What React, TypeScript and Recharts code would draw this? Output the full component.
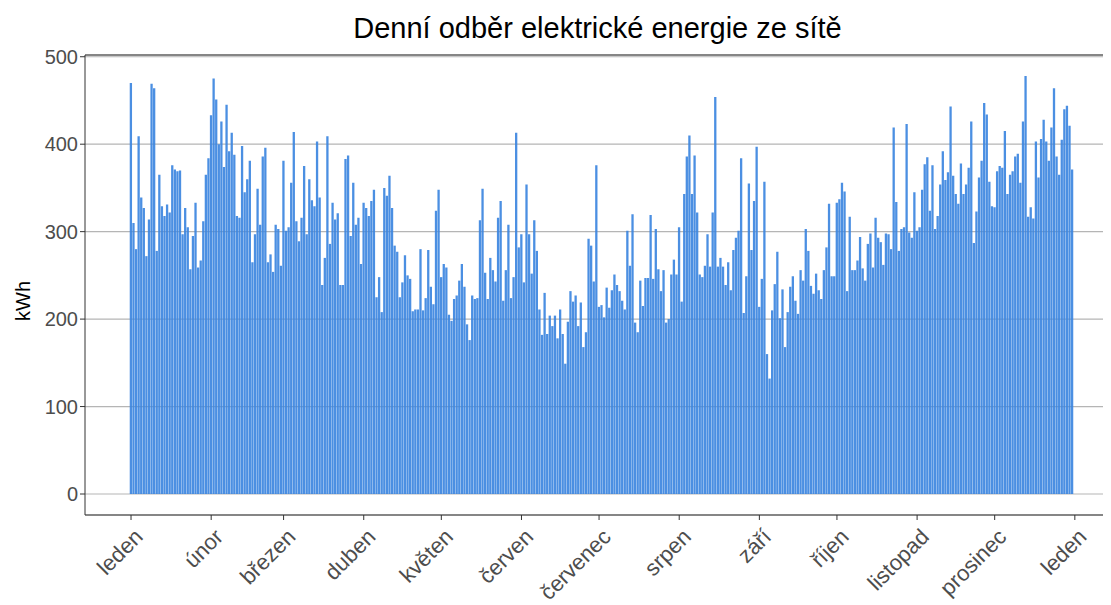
import { Bar, BarChart, CartesianGrid, ReferenceLine, XAxis, YAxis } from 'recharts';

// daily grid consumption (kWh), one array per month
const leden = [470, 310, 280, 409, 339, 327, 272, 314, 469, 464, 278, 365, 329, 318, 331, 322, 376, 371, 369, 370, 297, 327, 305, 257, 295, 333, 259, 267, 312, 365, 384];
const unor = [433, 475, 451, 400, 426, 374, 445, 392, 413, 388, 318, 316, 398, 345, 360, 381, 265, 297, 349, 308, 386, 396, 265, 274, 254, 308, 303, 261];
const brezen = [381, 301, 305, 356, 414, 312, 289, 316, 375, 297, 360, 336, 329, 403, 339, 239, 270, 409, 286, 333, 314, 321, 239, 239, 383, 387, 295, 356, 308, 316, 263];
const duben = [333, 327, 318, 335, 348, 225, 248, 208, 350, 341, 364, 327, 284, 277, 225, 242, 273, 250, 246, 209, 211, 211, 280, 210, 224, 279, 237, 217, 324, 348];
const kveten = [248, 263, 259, 205, 198, 223, 227, 244, 263, 237, 194, 176, 227, 223, 224, 313, 349, 253, 223, 270, 256, 243, 316, 335, 221, 256, 308, 224, 248, 413, 282];
const cerven = [297, 242, 354, 297, 252, 313, 278, 211, 182, 230, 183, 204, 192, 204, 178, 211, 183, 149, 197, 232, 220, 227, 192, 219, 168, 185, 292, 284, 243, 376];
const cervenec = [214, 216, 202, 236, 213, 233, 251, 239, 232, 221, 211, 301, 261, 320, 196, 185, 244, 215, 247, 247, 319, 246, 303, 257, 232, 256, 196, 200, 251, 268, 251];
const srpen = [305, 220, 343, 386, 410, 343, 387, 322, 251, 248, 261, 297, 260, 322, 454, 260, 270, 260, 239, 265, 233, 279, 293, 301, 384, 207, 249, 355, 279, 335, 397];
const zari = [214, 246, 357, 160, 132, 210, 240, 277, 201, 234, 168, 208, 237, 249, 221, 206, 256, 244, 303, 278, 238, 229, 252, 233, 223, 256, 282, 332, 249, 249];
const rijen = [333, 337, 356, 346, 232, 317, 256, 256, 267, 294, 258, 244, 286, 298, 259, 316, 293, 288, 262, 298, 297, 280, 419, 334, 278, 303, 305, 423, 299, 293, 345];
const listopad = [301, 305, 348, 377, 385, 324, 376, 303, 318, 354, 392, 359, 368, 443, 364, 343, 332, 378, 343, 354, 373, 426, 287, 323, 362, 381, 447, 434, 357, 329];
const prosinec = [328, 369, 375, 373, 415, 343, 365, 369, 386, 389, 356, 426, 478, 317, 328, 315, 403, 362, 406, 428, 403, 381, 419, 464, 386, 365, 405, 440, 444, 421, 371];

const monthNames = ['leden', 'únor', 'březen', 'duben', 'květen', 'červen', 'červenec', 'srpen', 'září', 'říjen', 'listopad', 'prosinec', 'leden'];
const monthStarts = [0, 31, 59, 90, 120, 151, 181, 212, 243, 273, 304, 334, 365];
const yTicks = [0, 100, 200, 300, 400, 500];

const data = [leden, unor, brezen, duben, kveten, cerven, cervenec, srpen, zari, rijen, listopad, prosinec]
  .flat()
  .map((kwh, i) => ({ day: i, kwh }));

const font = '"Liberation Sans", Arial, sans-serif';

function MonthTick({ x, y, payload }: any) {
  const idx = monthStarts.indexOf(payload.value);
  return (
    <g transform={`translate(${x + 2},${y + 5})`}>
      <text
        x={0}
        y={0}
        textAnchor="end"
        transform="rotate(-45)"
        fill="#4d4d4d"
        fontSize={22}
        fontFamily={font}
        dy="0.72em"
      >
        {monthNames[idx]}
      </text>
    </g>
  );
}

function YTitle() {
  return (
    <text
      x={0}
      y={0}
      transform="translate(22,293) rotate(-90)"
      textAnchor="middle"
      fill="#000"
      fontSize={20}
      fontFamily={font}
    >
      kWh
    </text>
  );
}

export default function App() {
  return (
    <div style={{ position: 'relative', width: 1103, height: 597 }}>
      <div
        style={{
          position: 'absolute',
          left: 77,
          width: 1025,
          top: 4,
          textAlign: 'center',
          fontFamily: font,
          fontSize: 29,
          color: '#000',
        }}
      >
        Denní odběr elektrické energie ze sítě
      </div>
      <BarChart
        width={1103}
        height={597}
        data={data}
        margin={{ top: 47, right: 1, bottom: 0, left: 0 }}
        barSize={2.3}
      >
        <CartesianGrid vertical={false} stroke="#b5b5b5" strokeWidth={1.2} />
        <XAxis
          dataKey="day"
          type="number"
          domain={[-17.8, 378.6]}
          ticks={monthStarts}
          allowDataOverflow
          interval={0}
          height={90}
          stroke="#333333"
          tickSize={5}
          tick={<MonthTick />}
        />
        <YAxis
          type="number"
          domain={[-24, 502]}
          ticks={yTicks}
          allowDataOverflow
          width={77}
          stroke="#333333"
          tickSize={5}
          tick={{ fill: '#4d4d4d', fontSize: 20, fontFamily: font }}
          label={{ content: () => <YTitle /> }}
        />
        <ReferenceLine y={502} stroke="#333333" />
        <Bar dataKey="kwh" fill="#3c85e0" fillOpacity={0.92} isAnimationActive={false} />
      </BarChart>
    </div>
  );
}
